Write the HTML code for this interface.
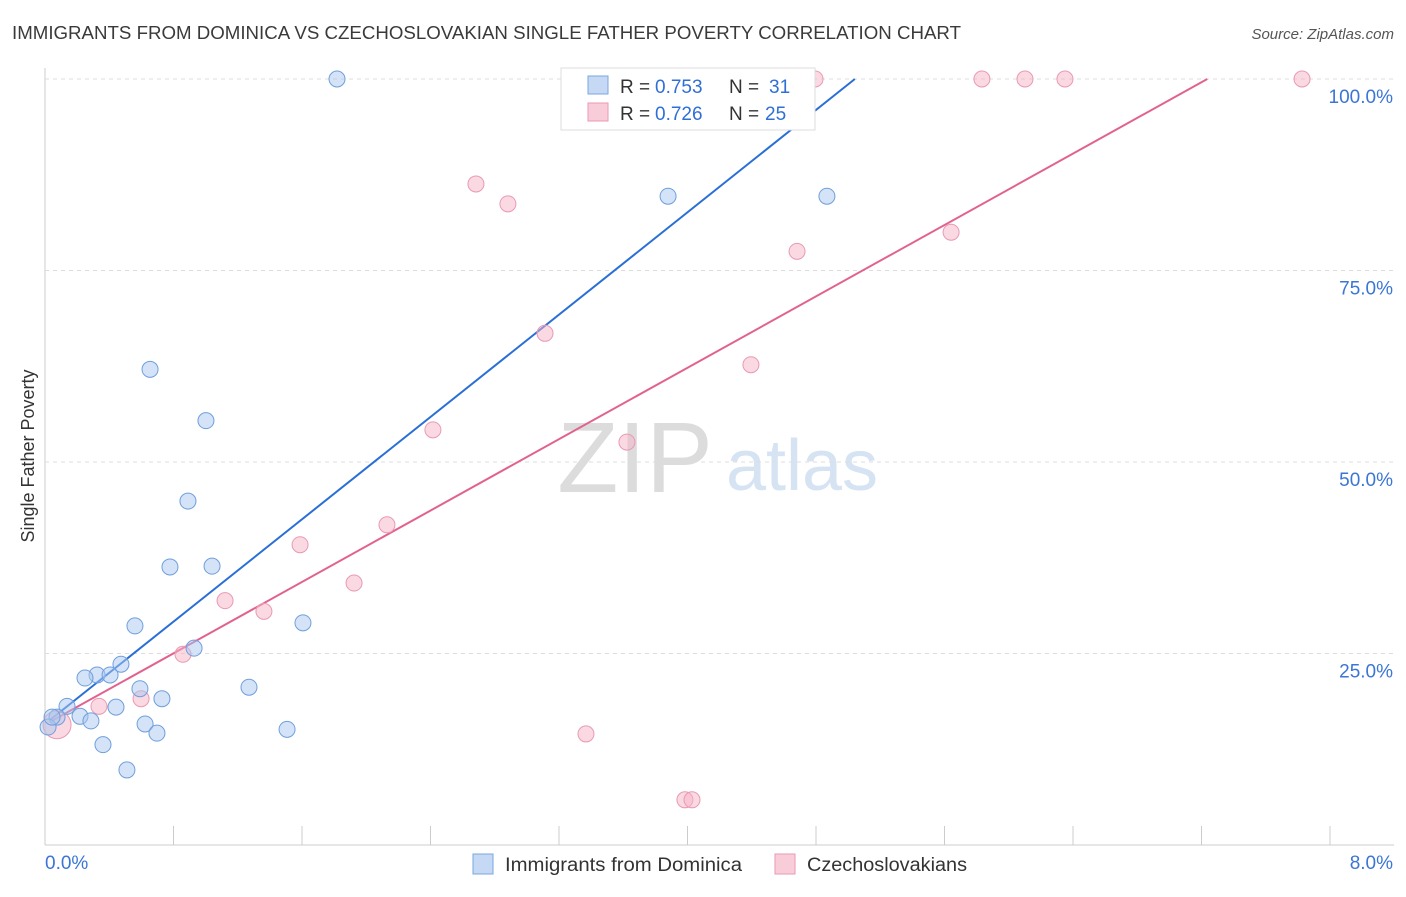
<!DOCTYPE html>
<html><head><meta charset="utf-8"><style>
body{margin:0;background:#fff;font-family:"Liberation Sans",sans-serif;}
svg text{font-family:"Liberation Sans",sans-serif;}
</style></head><body>
<svg id="c" width="1406" height="892">
<text x="12" y="39" font-size="18" fill="#3a3a3a" textLength="949" lengthAdjust="spacingAndGlyphs">IMMIGRANTS FROM DOMINICA VS CZECHOSLOVAKIAN SINGLE FATHER POVERTY CORRELATION CHART</text>
<text x="1394" y="39" font-size="15" fill="#555" font-style="italic" text-anchor="end">Source: ZipAtlas.com</text>
<text transform="translate(34,456) rotate(-90)" font-size="18" fill="#333" text-anchor="middle">Single Father Poverty</text>
<g><text x="635" y="492" font-size="100" fill="#dcdcdc" text-anchor="middle" font-family="Liberation Serif">ZIP</text><text x="802" y="490" font-size="72" fill="#d6e3f3" text-anchor="middle">atlas</text></g>
<g id="grid"></g><g id="lines"></g><g id="pts"></g>
<g>
<rect x="561" y="68" width="254" height="62" fill="#fff" stroke="#ddd"/>
<rect x="588" y="76" width="20" height="18" fill="#c5d9f5" stroke="#7aa7e0"/>
<text x="620" y="93" font-size="19" fill="#333">R =</text><text x="655" y="93" font-size="19" fill="#2f6fd6">0.753</text>
<text x="729" y="93" font-size="19" fill="#333">N =</text><text x="769" y="93" font-size="19" fill="#2f6fd6">31</text>
<rect x="588" y="103" width="20" height="18" fill="#f9ccd9" stroke="#e99ab3"/>
<text x="620" y="120" font-size="19" fill="#333">R =</text><text x="655" y="120" font-size="19" fill="#2f6fd6">0.726</text>
<text x="729" y="120" font-size="19" fill="#333">N =</text><text x="765" y="120" font-size="19" fill="#2f6fd6">25</text>
</g>
<g>
<rect x="473" y="854" width="20" height="20" fill="#c5d9f5" stroke="#7aa7e0"/>
<text x="505" y="871" font-size="19" fill="#333" textLength="237" lengthAdjust="spacingAndGlyphs">Immigrants from Dominica</text>
<rect x="775" y="854" width="20" height="20" fill="#f9ccd9" stroke="#e99ab3"/>
<text x="807" y="871" font-size="19" fill="#333" textLength="160" lengthAdjust="spacingAndGlyphs">Czechoslovakians</text>
</g>
</svg>
<script>
const yTicks=[25,50,75,100];
const yTickLabels=["25.0%","50.0%","75.0%","100.0%"];
const xTicks=[0,0.8,1.6,2.4,3.2,4.0,4.8,5.6,6.4,7.2,8.0];
const xMinLabel="0.0%", xMaxLabel="8.0%";
const blueX=[1.818,3.879,4.868,0.654,1.002,0.890,0.778,1.040,0.560,1.606,0.928,0.473,0.324,0.405,0.249,0.591,1.270,0.728,0.137,0.442,0.218,0.075,0.019,0.286,0.623,0.697,1.507,0.361,0.510,0.044];
const blueY=[100,84.7,84.7,62.1,55.4,44.9,36.3,36.4,28.6,29.0,25.7,23.6,22.2,22.2,21.8,20.4,20.6,19.1,18.1,18.0,16.8,16.7,15.4,16.2,15.8,14.6,15.1,13.1,9.8,16.7];
const pinkX=[4.794,5.833,6.101,6.350,7.826,2.683,2.882,4.682,5.641,3.113,4.395,2.415,3.623,2.129,1.588,1.924,1.121,1.363,0.859,0.598,0.336,3.368,3.984,4.028,0.075];
const pinkY=[100,100,100,100,100,86.3,83.7,77.5,80.0,66.8,62.7,54.2,52.6,41.8,39.2,34.2,31.9,30.5,24.9,19.1,18.1,14.5,5.9,5.9,15.7];
const blueFit=[15.8,16.7];
const pinkFit=[15.7,11.65];
const X=v=>45+v/8*1285, Y=v=>845-v/100*766;
const NS="http://www.w3.org/2000/svg";
function mk(t,a,p){const e=document.createElementNS(NS,t);for(const k in a)e.setAttribute(k,a[k]);p.appendChild(e);return e;}
const g=document.getElementById('grid');
let ax=mk('line',{x1:45,y1:68,x2:45,y2:845,stroke:'#ccc'},g);

let bx=mk('line',{x1:45,y1:845,x2:1394,y2:845,stroke:'#ccc'},g);

yTicks.forEach((v,i)=>{
 const l=mk('line',{x1:45,y1:Y(v),x2:1394,y2:Y(v),stroke:'#ddd','stroke-dasharray':'4,4'},g);
 
 const t=mk('text',{x:1393,y:Y(v)+24,'font-size':19,fill:'#3b75d6','text-anchor':'end'},g);t.textContent=yTickLabels[i];
 
});
xTicks.forEach(v=>{const l=mk('line',{x1:X(v),y1:826,x2:X(v),y2:845,stroke:'#ccc'},g);
 });
let t1=mk('text',{x:45,y:869,'font-size':19,fill:'#3b75d6'},g);t1.textContent=xMinLabel;

let t2=mk('text',{x:1393,y:869,'font-size':19,fill:'#3b75d6','text-anchor':'end'},g);t2.textContent=xMaxLabel;

const L=document.getElementById('lines');
function fit(f,col,name){const x0=0.03,x1=(100-f[0])/f[1];
 const l=mk('line',{x1:X(x0),y1:Y(f[0]+f[1]*x0),x2:X(x1),y2:Y(100),stroke:col,'stroke-width':2},L);
 }
fit(blueFit,'#2a6fd6','blue-trend-line');fit(pinkFit,'#e2628f','pink-trend-line');
const P=document.getElementById('pts');
pinkX.forEach((x,i)=>{const c=mk('circle',{cx:X(x),cy:Y(pinkY[i]),r:i==pinkX.length-1?14:8,fill:'rgba(246,180,200,0.5)',stroke:'#e99ab3'},P);
 });
blueX.forEach((x,i)=>{const c=mk('circle',{cx:X(x),cy:Y(blueY[i]),r:8,fill:'rgba(170,200,240,0.5)',stroke:'#6f9fdc'},P);
 });
</script>
</body></html>
